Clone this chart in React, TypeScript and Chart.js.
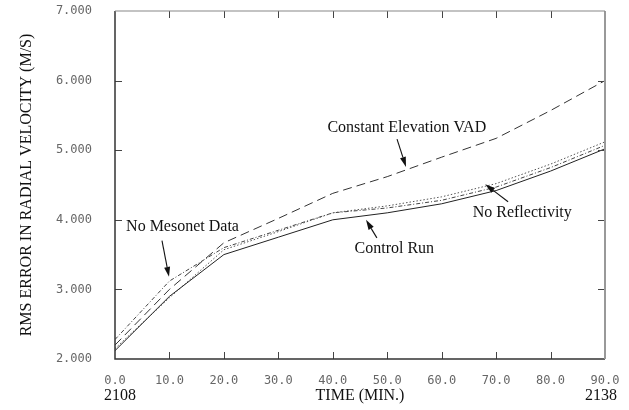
import React, { useEffect, useRef } from "react";
import { Chart, registerables } from "chart.js";

Chart.register(...registerables);

const times = [0, 10, 20, 30, 40, 50, 60, 70, 80, 90];
const controlRun = [2.12, 2.9, 3.5, 3.75, 4.0, 4.1, 4.23, 4.42, 4.7, 5.02];
const noReflectivity = [2.15, 2.88, 3.57, 3.83, 4.1, 4.2, 4.33, 4.52, 4.8, 5.12];
const noMesonet = [2.28, 3.12, 3.6, 3.85, 4.1, 4.17, 4.28, 4.47, 4.75, 5.07];
const constantVAD = [2.2, 3.0, 3.67, 4.02, 4.38, 4.62, 4.9, 5.17, 5.57, 6.0];

const xTickValues = [0, 10, 20, 30, 40, 50, 60, 70, 80, 90];
const xTickLabels = ["0.0", "10.0", "20.0", "30.0", "40.0", "50.0", "60.0", "70.0", "80.0", "90.0"];
const yTickValues = [2, 3, 4, 5, 6, 7];
const yTickLabels = ["2.000", "3.000", "4.000", "5.000", "6.000", "7.000"];

const clockLabels = [
  { value: 0, text: "2108" },
  { value: 90, text: "2138" },
];

// annotation text and arrows in data coordinates
const annotations = [
  { text: "Constant Elevation VAD", tx: 53.6, ty: 5.32, ax0: 51.8, ay0: 5.16, ax1: 53.45, ay1: 4.76 },
  { text: "No Mesonet Data", tx: 12.4, ty: 3.9, ax0: 8.63, ay0: 3.7, ax1: 9.92, ay1: 3.18 },
  { text: "No Reflectivity", tx: 74.8, ty: 4.1, ax0: 72.2, ay0: 4.26, ax1: 68.0, ay1: 4.51 },
  { text: "Control Run", tx: 51.3, ty: 3.59, ax0: 48.1, ay0: 3.74, ax1: 46.1, ay1: 4.0 },
];

const serif = "'Liberation Serif', 'DejaVu Serif', serif";
const mono = "'DejaVu Sans Mono', 'Liberation Mono', monospace";

const framePlugin = {
  id: "frame",
  afterDraw(chart: any) {
    const { ctx, chartArea, scales } = chart;
    const { left, right, top, bottom } = chartArea;
    const x = scales.x;
    const y = scales.y;
    ctx.save();
    // ticks inside
    ctx.strokeStyle = "#444";
    ctx.lineWidth = 1;
    const tl = 7;
    ctx.beginPath();
    xTickValues.forEach((v) => {
      if (v === 0 || v === 90) return;
      const px = Math.round(x.getPixelForValue(v)) + 0.5;
      ctx.moveTo(px, bottom);
      ctx.lineTo(px, bottom - tl);
      ctx.moveTo(px, top);
      ctx.lineTo(px, top + tl);
    });
    yTickValues.forEach((v) => {
      if (v === 2 || v === 7) return;
      const py = Math.round(y.getPixelForValue(v)) + 0.5;
      ctx.moveTo(left, py);
      ctx.lineTo(left + tl, py);
      ctx.moveTo(right, py);
      ctx.lineTo(right - tl, py);
    });
    ctx.stroke();
    // borders
    ctx.lineWidth = 1.5;
    ctx.strokeStyle = "#333";
    ctx.beginPath();
    ctx.moveTo(left, top);
    ctx.lineTo(left, bottom);
    ctx.lineTo(right, bottom);
    ctx.stroke();
    ctx.strokeStyle = "#999";
    ctx.lineWidth = 2;
    ctx.beginPath();
    ctx.moveTo(right, bottom);
    ctx.lineTo(right, top);
    ctx.stroke();
    ctx.lineWidth = 1.2;
    ctx.strokeStyle = "#888";
    ctx.beginPath();
    ctx.moveTo(right, top);
    ctx.lineTo(left, top);
    ctx.stroke();

    // clock labels
    ctx.fillStyle = "#111";
    ctx.font = `16px ${serif}`;
    ctx.textAlign = "center";
    ctx.textBaseline = "middle";
    clockLabels.forEach((c) => {
      const px = x.getPixelForValue(c.value) + (c.value === 0 ? 5 : -4);
      ctx.fillText(c.text, px, bottom + 37);
    });

    // annotations
    annotations.forEach((a) => {
      ctx.fillStyle = "#111";
      ctx.font = `16px ${serif}`;
      ctx.textAlign = "center";
      ctx.textBaseline = "middle";
      ctx.fillText(a.text, x.getPixelForValue(a.tx), y.getPixelForValue(a.ty));
      const x0 = x.getPixelForValue(a.ax0);
      const y0 = y.getPixelForValue(a.ay0);
      const x1 = x.getPixelForValue(a.ax1);
      const y1 = y.getPixelForValue(a.ay1);
      const ang = Math.atan2(y1 - y0, x1 - x0);
      const hl = 10;
      const hw = 3;
      const bx = x1 - hl * Math.cos(ang);
      const by = y1 - hl * Math.sin(ang);
      ctx.strokeStyle = "#111";
      ctx.lineWidth = 1.1;
      ctx.beginPath();
      ctx.moveTo(x0, y0);
      ctx.lineTo(bx, by);
      ctx.stroke();
      ctx.beginPath();
      ctx.moveTo(x1, y1);
      ctx.lineTo(bx + hw * Math.sin(ang), by - hw * Math.cos(ang));
      ctx.lineTo(bx - hw * Math.sin(ang), by + hw * Math.cos(ang));
      ctx.closePath();
      ctx.fill();
    });
    ctx.restore();
  },
};

function series(vals: number[]) {
  return times.map((t, i) => ({ x: t, y: vals[i] }));
}

export default function App() {
  const ref = useRef<HTMLCanvasElement | null>(null);
  useEffect(() => {
    if (!ref.current) return;
    const common = { pointRadius: 0, borderWidth: 1, tension: 0, fill: false };
    const chart = new Chart(ref.current, {
      type: "line",
      data: {
        datasets: [
          { label: "Control Run", data: series(controlRun), borderColor: "#222", ...common },
          { label: "No Reflectivity", data: series(noReflectivity), borderColor: "#555", borderDash: [1.5, 2], ...common },
          { label: "No Mesonet Data", data: series(noMesonet), borderColor: "#444", borderDash: [4, 2, 1, 2], ...common },
          { label: "Constant Elevation VAD", data: series(constantVAD), borderColor: "#333", borderDash: [9, 5], ...common },
        ],
      },
      options: {
        animation: false,
        responsive: false,
        maintainAspectRatio: false,
        layout: { padding: { left: 0, right: 24, top: 11, bottom: 0 } },
        plugins: { legend: { display: false }, tooltip: { enabled: false } },
        scales: {
          x: {
            type: "linear",
            min: 0,
            max: 90,
            afterBuildTicks: (s: any) => {
              s.ticks = xTickValues.map((v) => ({ value: v }));
            },
            afterFit: (s: any) => {
              s.height = 51;
              s.paddingLeft = 0;
              s.paddingRight = 0;
            },
            ticks: {
              autoSkip: false,
              maxRotation: 0,
              padding: 15,
              color: "#666",
              font: { family: mono, size: 12 },
              callback: (v: any) => xTickLabels[xTickValues.indexOf(Number(v))] ?? "",
            },
            grid: { display: false, drawTicks: false },
            border: { display: false },
            title: {
              display: true,
              text: "TIME (MIN.)",
              color: "#111",
              font: { family: serif, size: 16 },
              padding: { top: 0, bottom: 4.4 },
            },
          },
          y: {
            type: "linear",
            min: 2,
            max: 7,
            afterBuildTicks: (s: any) => {
              s.ticks = yTickValues.map((v) => ({ value: v }));
            },
            afterFit: (s: any) => {
              s.width = 115;
              s.paddingTop = 0;
              s.paddingBottom = 0;
            },
            ticks: {
              autoSkip: false,
              padding: 23,
              color: "#666",
              font: { family: mono, size: 12 },
              callback: (v: any) => yTickLabels[yTickValues.indexOf(Number(v))] ?? "",
            },
            grid: { display: false, drawTicks: false },
            border: { display: false },
            title: {
              display: true,
              text: "RMS ERROR IN RADIAL VELOCITY (M/S)",
              color: "#111",
              font: { family: serif, size: 16 },
              padding: { top: 17.4, bottom: 0 },
            },
          },
        },
      },
      plugins: [framePlugin],
    } as any);
    return () => chart.destroy();
  }, []);
  return (
    <div style={{ position: "fixed", left: 0, top: 0, width: 629, height: 410, background: "#fff" }}>
      <canvas ref={ref} width={629} height={410} style={{ width: 629, height: 410 }} />
    </div>
  );
}
